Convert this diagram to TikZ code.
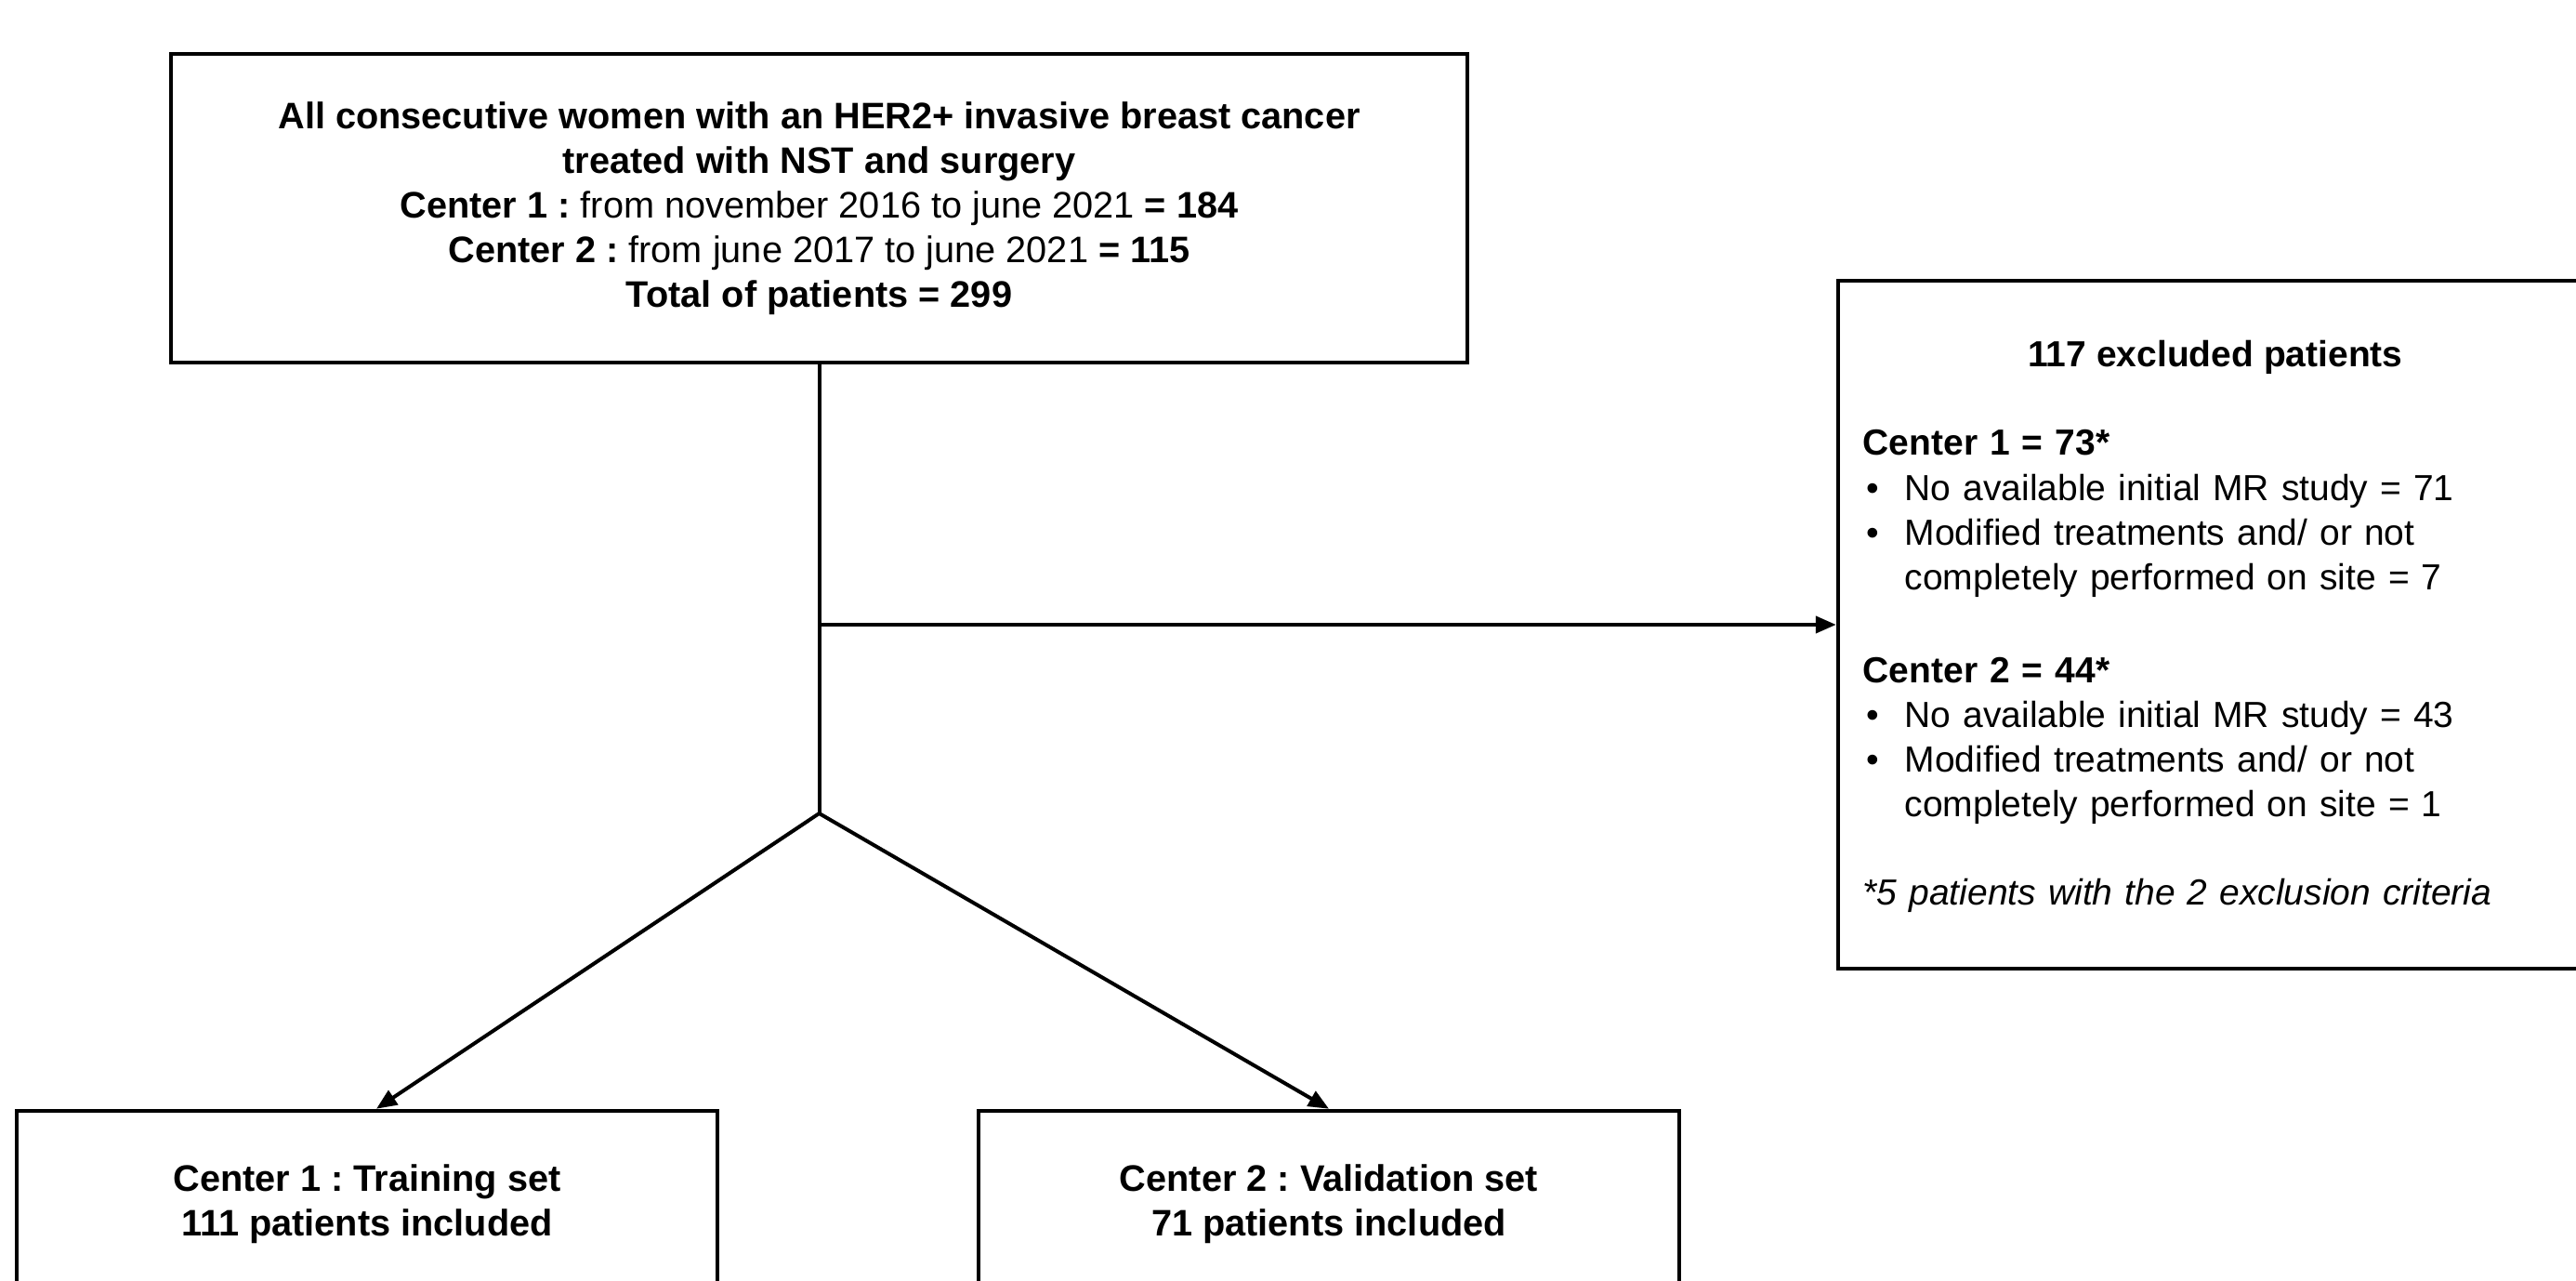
\documentclass[tikz,border=0pt]{standalone}
\usepackage{fontspec}
\setmainfont{Liberation Sans}
\usetikzlibrary{arrows.meta,calc}
\frenchspacing
\begin{document}
\begin{tikzpicture}[
  box/.style={draw=black, line width=0.045cm, rectangle, inner sep=0pt},
  conn/.style={draw=black, line width=0.04cm},
  arr/.style={conn, -{Triangle[length=0.22cm,width=0.18cm]}},
  txt/.style={font=\fontsize{11.3pt}{13.66pt}\selectfont},
  txtr/.style={font=\fontsize{11.1pt}{13.66pt}\selectfont},
]
\useasboundingbox[fill=white] (0,0) rectangle (27.72,-13.78);

% top box
\node[box, txt, minimum width=13.95cm, minimum height=3.32cm, align=center] (top) at (8.815,-2.24)
{\textbf{All consecutive women with an HER2+ invasive breast cancer}\\
 \textbf{treated with NST and surgery}\\
 \textbf{Center 1 :} from november 2016 to june 2021 \textbf{= 184}\\
 \textbf{Center 2 :} from june 2017 to june 2021 \textbf{= 115}\\
 \textbf{Total of patients = 299}};

% excluded box
\node[box, minimum width=8.22cm, minimum height=7.40cm] (exc) at (23.89,-6.72) {};
\node[txtr, anchor=base, inner sep=0pt] (exchead) at (23.84,-3.95) {\textbf{117 excluded patients}};
\node[txtr, anchor=base west, inner sep=0pt, text width=7.6cm, align=left] (excbody) at (20.04,-4.90)
{\textbf{Center 1 = 73*}\\
 \hspace*{0.04cm}\makebox[0.41cm][l]{•}No available initial MR study = 71\\
 \hspace*{0.04cm}\makebox[0.41cm][l]{•}Modified treatments and/ or not\\
 \hspace*{0.45cm}completely performed on site = 7\\[0.52cm]
 \textbf{Center 2 = 44*}\\
 \hspace*{0.04cm}\makebox[0.41cm][l]{•}No available initial MR study = 43\\
 \hspace*{0.04cm}\makebox[0.41cm][l]{•}Modified treatments and/ or not\\
 \hspace*{0.45cm}completely performed on site = 1\\[0.47cm]
 \textit{*5 patients with the 2 exclusion criteria}};

% bottom boxes
\node[box, txt, minimum width=7.54cm, minimum height=2.0cm, align=center] (train) at (3.95,-12.95)
{\textbf{Center 1 : Training set}\\ \textbf{111 patients included}};
\node[box, txt, minimum width=7.54cm, minimum height=2.0cm, align=center] (valid) at (14.30,-12.95)
{\textbf{Center 2 : Validation set}\\ \textbf{71 patients included}};

% connectors
\coordinate (branch) at (8.815,-6.72);
\coordinate (split) at (8.815,-8.75);
\draw[conn] (top.south) -- (split);
\draw[arr] (branch) -- (exc.west);
\draw[arr] (split) -- ($(train.north)+(0.1,0)$);
\draw[arr] (split) -- (valid.north);
\end{tikzpicture}
\end{document}
